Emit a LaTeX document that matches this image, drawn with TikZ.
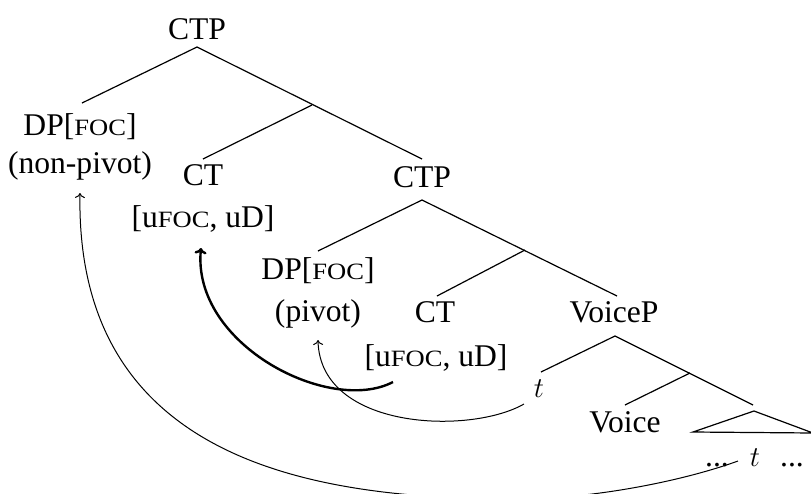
\documentclass[tikz,border=0pt]{standalone}
\usepackage{fontspec}
\setmainfont{Liberation Serif}
\usepackage{graphicx}
\usetikzlibrary{arrows.meta}
\newcommand{\fsc}[1]{\scalebox{0.84}[0.74]{#1}}
\begin{document}
\begin{tikzpicture}[x=0.5pt,y=-0.5pt,
  lbl/.style={anchor=base,inner sep=0pt,font=\fontsize{15.8pt}{19pt}\selectfont},
  branch/.style={line width=0.6pt},
  thinmove/.style={line width=0.5pt,-{To[length=2.5pt,width=5pt]}},
  thickmove/.style={line width=1.2pt,-{To[length=3pt,width=6pt]}}]
\useasboundingbox (0,0) rectangle (811,494);
\clip (0,0) rectangle (811,494);
% labels
\node[lbl] (ctp1) at (197,39) {CTP};
\node[lbl] (dp1) at (80,135) {DP[\fsc{FOC}]};
\node[lbl] (np1) at (80,173) {(non-pivot)};
\node[lbl] (ct1) at (203,185) {CT};
\node[lbl] (f1) at (203,227) {[u\fsc{FOC}, uD]};
\node[lbl] (ctp2) at (422,187) {CTP};
\node[lbl] (dp2) at (318,279) {DP[\fsc{FOC}]};
\node[lbl] (pv) at (318,321) {(pivot)};
\node[lbl] (ct2) at (435,322) {CT};
\node[lbl] (f2) at (436,366) {[u\fsc{FOC}, uD]};
\node[lbl] (vp) at (614,322) {VoiceP};
\node[lbl] (t1) at (539,397) {$t$};
\node[lbl] (voice) at (625,432) {Voice};
\node[lbl] (tlow) at (755,466) {$t$};
\node[lbl] (dl) at (717,466) {...};
\node[lbl] (dr) at (792,466) {...};
% tree points
\coordinate (r1) at (197,47);
\coordinate (i1) at (312,105);
\coordinate (dp1t) at (82,103);
\coordinate (ct1t) at (203,159);
\coordinate (ctp2t) at (422,159);
\coordinate (r2) at (422,200);
\coordinate (i2) at (525,250);
\coordinate (dp2t) at (318,251);
\coordinate (ct2t) at (437,296);
\coordinate (vpt) at (617,296);
\coordinate (r3) at (615,336);
\coordinate (i3) at (690,373);
\coordinate (t1t) at (541,372);
\coordinate (voicet) at (625,405);
\coordinate (trit) at (753,405);
\coordinate (tri) at (754,411);
\coordinate (tril) at (693,432);
\coordinate (trir) at (813,433);
\draw[branch] (dp1t) -- (r1) -- (ctp2t);
\draw[branch] (i1) -- (ct1t);
\draw[branch] (dp2t) -- (r2) -- (vpt);
\draw[branch] (i2) -- (ct2t);
\draw[branch] (t1t) -- (r3) -- (trit);
\draw[branch] (i3) -- (voicet);
\draw[branch] (tril) -- (tri) -- (trir) -- cycle;
% movement arrows
\coordinate (f2a) at (393,382);
\coordinate (f1b) at (201,248);
\coordinate (t1a) at (524,404);
\coordinate (pvb) at (318,340);
\coordinate (tla) at (738,461);
\coordinate (bot) at (517,499);
\coordinate (npb) at (80,193);
\draw[thickmove] (f2a) .. controls (330,415) and (192,345) .. (f1b);
\draw[thinmove] (t1a) .. controls (470,435) and (320,430) .. (pvb);
\draw[thinmove] (tla) .. controls (680,482) and (590,499) .. (bot) .. controls (330,499) and (75,470) .. (npb);
\end{tikzpicture}
\end{document}
